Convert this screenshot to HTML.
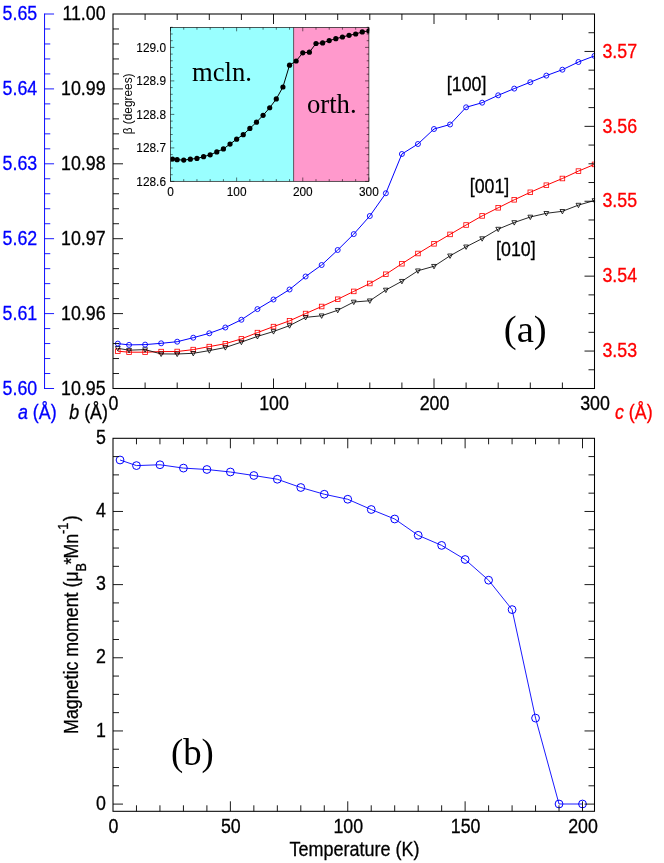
<!DOCTYPE html>
<html><head><meta charset="utf-8"><title>Lattice parameters and magnetic moment</title>
<style>
html,body{margin:0;padding:0;background:#fff;}
body{width:664px;height:863px;overflow:hidden;font-family:"Liberation Sans",sans-serif;}
svg{display:block;will-change:transform;}
</style></head><body>
<svg width="664" height="863" viewBox="0 0 664 863">
<defs><clipPath id="c2"><rect x="170.5" y="27.5" width="198.70" height="153.80"/></clipPath><clipPath id="c1"><rect x="109.0" y="14.0" width="486.10" height="374.50"/></clipPath></defs>
<rect width="664" height="863" fill="#fff"/>
<rect x="170.5" y="27.5" width="123.10" height="153.80" fill="#99ffff"/>
<rect x="293.6" y="27.5" width="75.30" height="153.80" fill="#ff99cc"/>
<line x1="293.60" y1="27.50" x2="293.60" y2="181.30" stroke="#000" stroke-width="0.6" />
<rect x="170.5" y="27.5" width="198.40" height="153.80" fill="none" stroke="#000" stroke-width="0.65"/>
<line x1="170.50" y1="181.30" x2="170.50" y2="177.50" stroke="#000" stroke-width="0.55" />
<line x1="170.50" y1="27.50" x2="170.50" y2="31.30" stroke="#000" stroke-width="0.55" />
<line x1="183.73" y1="181.30" x2="183.73" y2="179.10" stroke="#000" stroke-width="0.55" />
<line x1="183.73" y1="27.50" x2="183.73" y2="29.70" stroke="#000" stroke-width="0.55" />
<line x1="196.95" y1="181.30" x2="196.95" y2="179.10" stroke="#000" stroke-width="0.55" />
<line x1="196.95" y1="27.50" x2="196.95" y2="29.70" stroke="#000" stroke-width="0.55" />
<line x1="210.18" y1="181.30" x2="210.18" y2="179.10" stroke="#000" stroke-width="0.55" />
<line x1="210.18" y1="27.50" x2="210.18" y2="29.70" stroke="#000" stroke-width="0.55" />
<line x1="223.41" y1="181.30" x2="223.41" y2="179.10" stroke="#000" stroke-width="0.55" />
<line x1="223.41" y1="27.50" x2="223.41" y2="29.70" stroke="#000" stroke-width="0.55" />
<line x1="236.63" y1="181.30" x2="236.63" y2="177.50" stroke="#000" stroke-width="0.55" />
<line x1="236.63" y1="27.50" x2="236.63" y2="31.30" stroke="#000" stroke-width="0.55" />
<line x1="249.86" y1="181.30" x2="249.86" y2="179.10" stroke="#000" stroke-width="0.55" />
<line x1="249.86" y1="27.50" x2="249.86" y2="29.70" stroke="#000" stroke-width="0.55" />
<line x1="263.09" y1="181.30" x2="263.09" y2="179.10" stroke="#000" stroke-width="0.55" />
<line x1="263.09" y1="27.50" x2="263.09" y2="29.70" stroke="#000" stroke-width="0.55" />
<line x1="276.31" y1="181.30" x2="276.31" y2="179.10" stroke="#000" stroke-width="0.55" />
<line x1="276.31" y1="27.50" x2="276.31" y2="29.70" stroke="#000" stroke-width="0.55" />
<line x1="289.54" y1="181.30" x2="289.54" y2="179.10" stroke="#000" stroke-width="0.55" />
<line x1="289.54" y1="27.50" x2="289.54" y2="29.70" stroke="#000" stroke-width="0.55" />
<line x1="302.77" y1="181.30" x2="302.77" y2="177.50" stroke="#000" stroke-width="0.55" />
<line x1="302.77" y1="27.50" x2="302.77" y2="31.30" stroke="#000" stroke-width="0.55" />
<line x1="315.99" y1="181.30" x2="315.99" y2="179.10" stroke="#000" stroke-width="0.55" />
<line x1="315.99" y1="27.50" x2="315.99" y2="29.70" stroke="#000" stroke-width="0.55" />
<line x1="329.22" y1="181.30" x2="329.22" y2="179.10" stroke="#000" stroke-width="0.55" />
<line x1="329.22" y1="27.50" x2="329.22" y2="29.70" stroke="#000" stroke-width="0.55" />
<line x1="342.45" y1="181.30" x2="342.45" y2="179.10" stroke="#000" stroke-width="0.55" />
<line x1="342.45" y1="27.50" x2="342.45" y2="29.70" stroke="#000" stroke-width="0.55" />
<line x1="355.67" y1="181.30" x2="355.67" y2="179.10" stroke="#000" stroke-width="0.55" />
<line x1="355.67" y1="27.50" x2="355.67" y2="29.70" stroke="#000" stroke-width="0.55" />
<line x1="368.90" y1="181.30" x2="368.90" y2="177.50" stroke="#000" stroke-width="0.55" />
<line x1="368.90" y1="27.50" x2="368.90" y2="31.30" stroke="#000" stroke-width="0.55" />
<line x1="170.50" y1="181.40" x2="174.30" y2="181.40" stroke="#000" stroke-width="0.55" />
<line x1="368.90" y1="181.40" x2="365.10" y2="181.40" stroke="#000" stroke-width="0.55" />
<line x1="170.50" y1="174.70" x2="172.70" y2="174.70" stroke="#000" stroke-width="0.55" />
<line x1="368.90" y1="174.70" x2="366.70" y2="174.70" stroke="#000" stroke-width="0.55" />
<line x1="170.50" y1="168.00" x2="172.70" y2="168.00" stroke="#000" stroke-width="0.55" />
<line x1="368.90" y1="168.00" x2="366.70" y2="168.00" stroke="#000" stroke-width="0.55" />
<line x1="170.50" y1="161.30" x2="172.70" y2="161.30" stroke="#000" stroke-width="0.55" />
<line x1="368.90" y1="161.30" x2="366.70" y2="161.30" stroke="#000" stroke-width="0.55" />
<line x1="170.50" y1="154.60" x2="172.70" y2="154.60" stroke="#000" stroke-width="0.55" />
<line x1="368.90" y1="154.60" x2="366.70" y2="154.60" stroke="#000" stroke-width="0.55" />
<line x1="170.50" y1="147.90" x2="174.30" y2="147.90" stroke="#000" stroke-width="0.55" />
<line x1="368.90" y1="147.90" x2="365.10" y2="147.90" stroke="#000" stroke-width="0.55" />
<line x1="170.50" y1="141.20" x2="172.70" y2="141.20" stroke="#000" stroke-width="0.55" />
<line x1="368.90" y1="141.20" x2="366.70" y2="141.20" stroke="#000" stroke-width="0.55" />
<line x1="170.50" y1="134.50" x2="172.70" y2="134.50" stroke="#000" stroke-width="0.55" />
<line x1="368.90" y1="134.50" x2="366.70" y2="134.50" stroke="#000" stroke-width="0.55" />
<line x1="170.50" y1="127.80" x2="172.70" y2="127.80" stroke="#000" stroke-width="0.55" />
<line x1="368.90" y1="127.80" x2="366.70" y2="127.80" stroke="#000" stroke-width="0.55" />
<line x1="170.50" y1="121.10" x2="172.70" y2="121.10" stroke="#000" stroke-width="0.55" />
<line x1="368.90" y1="121.10" x2="366.70" y2="121.10" stroke="#000" stroke-width="0.55" />
<line x1="170.50" y1="114.40" x2="174.30" y2="114.40" stroke="#000" stroke-width="0.55" />
<line x1="368.90" y1="114.40" x2="365.10" y2="114.40" stroke="#000" stroke-width="0.55" />
<line x1="170.50" y1="107.70" x2="172.70" y2="107.70" stroke="#000" stroke-width="0.55" />
<line x1="368.90" y1="107.70" x2="366.70" y2="107.70" stroke="#000" stroke-width="0.55" />
<line x1="170.50" y1="101.00" x2="172.70" y2="101.00" stroke="#000" stroke-width="0.55" />
<line x1="368.90" y1="101.00" x2="366.70" y2="101.00" stroke="#000" stroke-width="0.55" />
<line x1="170.50" y1="94.30" x2="172.70" y2="94.30" stroke="#000" stroke-width="0.55" />
<line x1="368.90" y1="94.30" x2="366.70" y2="94.30" stroke="#000" stroke-width="0.55" />
<line x1="170.50" y1="87.60" x2="172.70" y2="87.60" stroke="#000" stroke-width="0.55" />
<line x1="368.90" y1="87.60" x2="366.70" y2="87.60" stroke="#000" stroke-width="0.55" />
<line x1="170.50" y1="80.90" x2="174.30" y2="80.90" stroke="#000" stroke-width="0.55" />
<line x1="368.90" y1="80.90" x2="365.10" y2="80.90" stroke="#000" stroke-width="0.55" />
<line x1="170.50" y1="74.20" x2="172.70" y2="74.20" stroke="#000" stroke-width="0.55" />
<line x1="368.90" y1="74.20" x2="366.70" y2="74.20" stroke="#000" stroke-width="0.55" />
<line x1="170.50" y1="67.50" x2="172.70" y2="67.50" stroke="#000" stroke-width="0.55" />
<line x1="368.90" y1="67.50" x2="366.70" y2="67.50" stroke="#000" stroke-width="0.55" />
<line x1="170.50" y1="60.80" x2="172.70" y2="60.80" stroke="#000" stroke-width="0.55" />
<line x1="368.90" y1="60.80" x2="366.70" y2="60.80" stroke="#000" stroke-width="0.55" />
<line x1="170.50" y1="54.10" x2="172.70" y2="54.10" stroke="#000" stroke-width="0.55" />
<line x1="368.90" y1="54.10" x2="366.70" y2="54.10" stroke="#000" stroke-width="0.55" />
<line x1="170.50" y1="47.40" x2="174.30" y2="47.40" stroke="#000" stroke-width="0.55" />
<line x1="368.90" y1="47.40" x2="365.10" y2="47.40" stroke="#000" stroke-width="0.55" />
<line x1="170.50" y1="40.70" x2="172.70" y2="40.70" stroke="#000" stroke-width="0.55" />
<line x1="368.90" y1="40.70" x2="366.70" y2="40.70" stroke="#000" stroke-width="0.55" />
<line x1="170.50" y1="34.00" x2="172.70" y2="34.00" stroke="#000" stroke-width="0.55" />
<line x1="368.90" y1="34.00" x2="366.70" y2="34.00" stroke="#000" stroke-width="0.55" />
<line x1="170.50" y1="27.30" x2="172.70" y2="27.30" stroke="#000" stroke-width="0.55" />
<line x1="368.90" y1="27.30" x2="366.70" y2="27.30" stroke="#000" stroke-width="0.55" />
<text transform="translate(170.50,196.10) scale(0.89,1)" font-size="13.33" fill="#000" stroke="#000" stroke-width="0.12" text-anchor="middle" font-family='"Liberation Sans", sans-serif' >0</text>
<text transform="translate(236.63,196.10) scale(0.89,1)" font-size="13.33" fill="#000" stroke="#000" stroke-width="0.12" text-anchor="middle" font-family='"Liberation Sans", sans-serif' >100</text>
<text transform="translate(302.77,196.10) scale(0.89,1)" font-size="13.33" fill="#000" stroke="#000" stroke-width="0.12" text-anchor="middle" font-family='"Liberation Sans", sans-serif' >200</text>
<text transform="translate(368.90,196.10) scale(0.89,1)" font-size="13.33" fill="#000" stroke="#000" stroke-width="0.12" text-anchor="middle" font-family='"Liberation Sans", sans-serif' >300</text>
<text transform="translate(166.00,185.80) scale(0.89,1)" font-size="13.33" fill="#000" stroke="#000" stroke-width="0.12" text-anchor="end" font-family='"Liberation Sans", sans-serif' >128.6</text>
<text transform="translate(166.00,152.30) scale(0.89,1)" font-size="13.33" fill="#000" stroke="#000" stroke-width="0.12" text-anchor="end" font-family='"Liberation Sans", sans-serif' >128.7</text>
<text transform="translate(166.00,118.80) scale(0.89,1)" font-size="13.33" fill="#000" stroke="#000" stroke-width="0.12" text-anchor="end" font-family='"Liberation Sans", sans-serif' >128.8</text>
<text transform="translate(166.00,85.30) scale(0.89,1)" font-size="13.33" fill="#000" stroke="#000" stroke-width="0.12" text-anchor="end" font-family='"Liberation Sans", sans-serif' >128.9</text>
<text transform="translate(166.00,51.80) scale(0.89,1)" font-size="13.33" fill="#000" stroke="#000" stroke-width="0.12" text-anchor="end" font-family='"Liberation Sans", sans-serif' >129.0</text>
<text transform="translate(132.4,134.3) rotate(-90) scale(0.89,1)" font-size="13.33" font-family='"Liberation Sans", sans-serif' fill="#000">&#946; (degrees)</text>
<text transform="translate(192.00,81.30) scale(1.0,1)" font-size="26.67" fill="#000" text-anchor="start" font-family='"Liberation Serif", serif' >mcln.</text>
<text transform="translate(307.00,113.40) scale(1.0,1)" font-size="26.67" fill="#000" text-anchor="start" font-family='"Liberation Serif", serif' >orth.</text>
<g clip-path="url(#c2)">
<polyline points="172.48,159.00 177.11,159.70 183.73,160.10 190.34,159.20 196.95,158.40 203.57,156.70 210.18,154.80 216.79,151.90 223.41,148.90 230.02,144.10 236.63,139.20 243.25,134.65 249.86,128.45 256.47,122.20 263.09,115.30 269.70,107.75 276.31,98.95 282.93,87.00 289.54,65.20 296.15,61.00 302.77,52.80 309.38,52.20 315.99,43.50 322.61,42.90 329.22,40.60 335.83,38.70 342.45,37.00 349.06,35.30 355.67,34.00 362.29,31.90 368.90,30.90" fill="none" stroke="#000" stroke-width="1"/>
<circle cx="172.48" cy="159.00" r="2.6" fill="#000"/>
<circle cx="177.11" cy="159.70" r="2.6" fill="#000"/>
<circle cx="183.73" cy="160.10" r="2.6" fill="#000"/>
<circle cx="190.34" cy="159.20" r="2.6" fill="#000"/>
<circle cx="196.95" cy="158.40" r="2.6" fill="#000"/>
<circle cx="203.57" cy="156.70" r="2.6" fill="#000"/>
<circle cx="210.18" cy="154.80" r="2.6" fill="#000"/>
<circle cx="216.79" cy="151.90" r="2.6" fill="#000"/>
<circle cx="223.41" cy="148.90" r="2.6" fill="#000"/>
<circle cx="230.02" cy="144.10" r="2.6" fill="#000"/>
<circle cx="236.63" cy="139.20" r="2.6" fill="#000"/>
<circle cx="243.25" cy="134.65" r="2.6" fill="#000"/>
<circle cx="249.86" cy="128.45" r="2.6" fill="#000"/>
<circle cx="256.47" cy="122.20" r="2.6" fill="#000"/>
<circle cx="263.09" cy="115.30" r="2.6" fill="#000"/>
<circle cx="269.70" cy="107.75" r="2.6" fill="#000"/>
<circle cx="276.31" cy="98.95" r="2.6" fill="#000"/>
<circle cx="282.93" cy="87.00" r="2.6" fill="#000"/>
<circle cx="289.54" cy="65.20" r="2.6" fill="#000"/>
<circle cx="296.15" cy="61.00" r="2.6" fill="#000"/>
<circle cx="302.77" cy="52.80" r="2.6" fill="#000"/>
<circle cx="309.38" cy="52.20" r="2.6" fill="#000"/>
<circle cx="315.99" cy="43.50" r="2.6" fill="#000"/>
<circle cx="322.61" cy="42.90" r="2.6" fill="#000"/>
<circle cx="329.22" cy="40.60" r="2.6" fill="#000"/>
<circle cx="335.83" cy="38.70" r="2.6" fill="#000"/>
<circle cx="342.45" cy="37.00" r="2.6" fill="#000"/>
<circle cx="349.06" cy="35.30" r="2.6" fill="#000"/>
<circle cx="355.67" cy="34.00" r="2.6" fill="#000"/>
<circle cx="362.29" cy="31.90" r="2.6" fill="#000"/>
<circle cx="368.90" cy="30.90" r="2.6" fill="#000"/>
</g>
<line x1="44.55" y1="13.50" x2="44.55" y2="389.00" stroke="#0000ff" stroke-width="0.95" />
<line x1="44.55" y1="14.00" x2="54.05" y2="14.00" stroke="#0000ff" stroke-width="0.9" />
<line x1="44.55" y1="28.98" x2="50.25" y2="28.98" stroke="#0000ff" stroke-width="0.9" />
<line x1="44.55" y1="43.96" x2="50.25" y2="43.96" stroke="#0000ff" stroke-width="0.9" />
<line x1="44.55" y1="58.94" x2="50.25" y2="58.94" stroke="#0000ff" stroke-width="0.9" />
<line x1="44.55" y1="73.92" x2="50.25" y2="73.92" stroke="#0000ff" stroke-width="0.9" />
<line x1="44.55" y1="88.90" x2="54.05" y2="88.90" stroke="#0000ff" stroke-width="0.9" />
<line x1="44.55" y1="103.88" x2="50.25" y2="103.88" stroke="#0000ff" stroke-width="0.9" />
<line x1="44.55" y1="118.86" x2="50.25" y2="118.86" stroke="#0000ff" stroke-width="0.9" />
<line x1="44.55" y1="133.84" x2="50.25" y2="133.84" stroke="#0000ff" stroke-width="0.9" />
<line x1="44.55" y1="148.82" x2="50.25" y2="148.82" stroke="#0000ff" stroke-width="0.9" />
<line x1="44.55" y1="163.80" x2="54.05" y2="163.80" stroke="#0000ff" stroke-width="0.9" />
<line x1="44.55" y1="178.78" x2="50.25" y2="178.78" stroke="#0000ff" stroke-width="0.9" />
<line x1="44.55" y1="193.76" x2="50.25" y2="193.76" stroke="#0000ff" stroke-width="0.9" />
<line x1="44.55" y1="208.74" x2="50.25" y2="208.74" stroke="#0000ff" stroke-width="0.9" />
<line x1="44.55" y1="223.72" x2="50.25" y2="223.72" stroke="#0000ff" stroke-width="0.9" />
<line x1="44.55" y1="238.70" x2="54.05" y2="238.70" stroke="#0000ff" stroke-width="0.9" />
<line x1="44.55" y1="253.68" x2="50.25" y2="253.68" stroke="#0000ff" stroke-width="0.9" />
<line x1="44.55" y1="268.66" x2="50.25" y2="268.66" stroke="#0000ff" stroke-width="0.9" />
<line x1="44.55" y1="283.64" x2="50.25" y2="283.64" stroke="#0000ff" stroke-width="0.9" />
<line x1="44.55" y1="298.62" x2="50.25" y2="298.62" stroke="#0000ff" stroke-width="0.9" />
<line x1="44.55" y1="313.60" x2="54.05" y2="313.60" stroke="#0000ff" stroke-width="0.9" />
<line x1="44.55" y1="328.58" x2="50.25" y2="328.58" stroke="#0000ff" stroke-width="0.9" />
<line x1="44.55" y1="343.56" x2="50.25" y2="343.56" stroke="#0000ff" stroke-width="0.9" />
<line x1="44.55" y1="358.54" x2="50.25" y2="358.54" stroke="#0000ff" stroke-width="0.9" />
<line x1="44.55" y1="373.52" x2="50.25" y2="373.52" stroke="#0000ff" stroke-width="0.9" />
<line x1="44.55" y1="388.50" x2="54.05" y2="388.50" stroke="#0000ff" stroke-width="0.9" />
<text transform="translate(2.60,20.20) scale(0.89,1)" font-size="20.0" fill="#0000ff" stroke="#0000ff" stroke-width="0.3" text-anchor="start" font-family='"Liberation Sans", sans-serif' >5.65</text>
<text transform="translate(105.60,20.20) scale(0.89,1)" font-size="20.0" fill="#000" stroke="#000" stroke-width="0.3" text-anchor="end" font-family='"Liberation Sans", sans-serif' >11.00</text>
<text transform="translate(2.60,95.10) scale(0.89,1)" font-size="20.0" fill="#0000ff" stroke="#0000ff" stroke-width="0.3" text-anchor="start" font-family='"Liberation Sans", sans-serif' >5.64</text>
<text transform="translate(105.60,95.10) scale(0.89,1)" font-size="20.0" fill="#000" stroke="#000" stroke-width="0.3" text-anchor="end" font-family='"Liberation Sans", sans-serif' >10.99</text>
<text transform="translate(2.60,170.00) scale(0.89,1)" font-size="20.0" fill="#0000ff" stroke="#0000ff" stroke-width="0.3" text-anchor="start" font-family='"Liberation Sans", sans-serif' >5.63</text>
<text transform="translate(105.60,170.00) scale(0.89,1)" font-size="20.0" fill="#000" stroke="#000" stroke-width="0.3" text-anchor="end" font-family='"Liberation Sans", sans-serif' >10.98</text>
<text transform="translate(2.60,244.90) scale(0.89,1)" font-size="20.0" fill="#0000ff" stroke="#0000ff" stroke-width="0.3" text-anchor="start" font-family='"Liberation Sans", sans-serif' >5.62</text>
<text transform="translate(105.60,244.90) scale(0.89,1)" font-size="20.0" fill="#000" stroke="#000" stroke-width="0.3" text-anchor="end" font-family='"Liberation Sans", sans-serif' >10.97</text>
<text transform="translate(2.60,319.80) scale(0.89,1)" font-size="20.0" fill="#0000ff" stroke="#0000ff" stroke-width="0.3" text-anchor="start" font-family='"Liberation Sans", sans-serif' >5.61</text>
<text transform="translate(105.60,319.80) scale(0.89,1)" font-size="20.0" fill="#000" stroke="#000" stroke-width="0.3" text-anchor="end" font-family='"Liberation Sans", sans-serif' >10.96</text>
<text transform="translate(2.60,394.70) scale(0.89,1)" font-size="20.0" fill="#0000ff" stroke="#0000ff" stroke-width="0.3" text-anchor="start" font-family='"Liberation Sans", sans-serif' >5.60</text>
<text transform="translate(105.60,394.70) scale(0.89,1)" font-size="20.0" fill="#000" stroke="#000" stroke-width="0.3" text-anchor="end" font-family='"Liberation Sans", sans-serif' >10.95</text>
<text transform="translate(602.40,57.65) scale(0.89,1)" font-size="20.0" fill="#ff0000" stroke="#ff0000" stroke-width="0.3" text-anchor="start" font-family='"Liberation Sans", sans-serif' >3.57</text>
<text transform="translate(602.40,132.55) scale(0.89,1)" font-size="20.0" fill="#ff0000" stroke="#ff0000" stroke-width="0.3" text-anchor="start" font-family='"Liberation Sans", sans-serif' >3.56</text>
<text transform="translate(602.40,207.45) scale(0.89,1)" font-size="20.0" fill="#ff0000" stroke="#ff0000" stroke-width="0.3" text-anchor="start" font-family='"Liberation Sans", sans-serif' >3.55</text>
<text transform="translate(602.40,282.35) scale(0.89,1)" font-size="20.0" fill="#ff0000" stroke="#ff0000" stroke-width="0.3" text-anchor="start" font-family='"Liberation Sans", sans-serif' >3.54</text>
<text transform="translate(602.40,357.25) scale(0.89,1)" font-size="20.0" fill="#ff0000" stroke="#ff0000" stroke-width="0.3" text-anchor="start" font-family='"Liberation Sans", sans-serif' >3.53</text>
<text transform="translate(113.50,409.70) scale(0.89,1)" font-size="20.0" fill="#000" stroke="#000" stroke-width="0.3" text-anchor="middle" font-family='"Liberation Sans", sans-serif' >0</text>
<text transform="translate(274.00,409.70) scale(0.89,1)" font-size="20.0" fill="#000" stroke="#000" stroke-width="0.3" text-anchor="middle" font-family='"Liberation Sans", sans-serif' >100</text>
<text transform="translate(434.50,409.70) scale(0.89,1)" font-size="20.0" fill="#000" stroke="#000" stroke-width="0.3" text-anchor="middle" font-family='"Liberation Sans", sans-serif' >200</text>
<text transform="translate(595.00,409.70) scale(0.89,1)" font-size="20.0" fill="#000" stroke="#000" stroke-width="0.3" text-anchor="middle" font-family='"Liberation Sans", sans-serif' >300</text>
<text transform="translate(18.00,419.40) scale(0.89,1)" font-size="20.0" fill="#0000ff" stroke="#0000ff" stroke-width="0.3" text-anchor="start" font-family='"Liberation Sans", sans-serif' ><tspan font-style="italic">a</tspan> (&#197;)</text>
<text transform="translate(69.30,419.40) scale(0.89,1)" font-size="20.0" fill="#000" stroke="#000" stroke-width="0.3" text-anchor="start" font-family='"Liberation Sans", sans-serif' ><tspan font-style="italic">b</tspan> (&#197;)</text>
<text transform="translate(615.00,419.30) scale(0.89,1)" font-size="20.0" fill="#ff0000" stroke="#ff0000" stroke-width="0.3" text-anchor="start" font-family='"Liberation Sans", sans-serif' ><tspan font-style="italic">c</tspan> (&#197;)</text>
<g clip-path="url(#c1)">
<polyline points="117.81,351.20 129.05,352.20 145.10,352.20 161.15,351.60 177.20,351.50 193.25,349.60 209.30,346.60 225.35,343.70 241.40,338.90 257.45,332.60 273.50,326.60 289.55,320.80 305.60,313.55 321.65,306.50 337.70,299.25 353.75,291.40 369.80,283.50 385.85,274.25 401.90,263.75 417.95,253.50 434.00,243.80 450.05,234.40 466.10,225.00 482.15,215.90 498.20,207.80 514.25,199.80 530.30,192.30 546.35,185.20 562.40,178.50 578.45,171.10 594.50,164.40" fill="none" stroke="#ff0000" stroke-width="1" stroke-linejoin="round"/>
<rect x="115.52" y="348.90" width="4.6" height="4.6" fill="none" stroke="#ff0000" stroke-width="0.8"/>
<rect x="126.75" y="349.90" width="4.6" height="4.6" fill="none" stroke="#ff0000" stroke-width="0.8"/>
<rect x="142.80" y="349.90" width="4.6" height="4.6" fill="none" stroke="#ff0000" stroke-width="0.8"/>
<rect x="158.85" y="349.30" width="4.6" height="4.6" fill="none" stroke="#ff0000" stroke-width="0.8"/>
<rect x="174.90" y="349.20" width="4.6" height="4.6" fill="none" stroke="#ff0000" stroke-width="0.8"/>
<rect x="190.95" y="347.30" width="4.6" height="4.6" fill="none" stroke="#ff0000" stroke-width="0.8"/>
<rect x="207.00" y="344.30" width="4.6" height="4.6" fill="none" stroke="#ff0000" stroke-width="0.8"/>
<rect x="223.05" y="341.40" width="4.6" height="4.6" fill="none" stroke="#ff0000" stroke-width="0.8"/>
<rect x="239.10" y="336.60" width="4.6" height="4.6" fill="none" stroke="#ff0000" stroke-width="0.8"/>
<rect x="255.15" y="330.30" width="4.6" height="4.6" fill="none" stroke="#ff0000" stroke-width="0.8"/>
<rect x="271.20" y="324.30" width="4.6" height="4.6" fill="none" stroke="#ff0000" stroke-width="0.8"/>
<rect x="287.25" y="318.50" width="4.6" height="4.6" fill="none" stroke="#ff0000" stroke-width="0.8"/>
<rect x="303.30" y="311.25" width="4.6" height="4.6" fill="none" stroke="#ff0000" stroke-width="0.8"/>
<rect x="319.35" y="304.20" width="4.6" height="4.6" fill="none" stroke="#ff0000" stroke-width="0.8"/>
<rect x="335.40" y="296.95" width="4.6" height="4.6" fill="none" stroke="#ff0000" stroke-width="0.8"/>
<rect x="351.45" y="289.10" width="4.6" height="4.6" fill="none" stroke="#ff0000" stroke-width="0.8"/>
<rect x="367.50" y="281.20" width="4.6" height="4.6" fill="none" stroke="#ff0000" stroke-width="0.8"/>
<rect x="383.55" y="271.95" width="4.6" height="4.6" fill="none" stroke="#ff0000" stroke-width="0.8"/>
<rect x="399.60" y="261.45" width="4.6" height="4.6" fill="none" stroke="#ff0000" stroke-width="0.8"/>
<rect x="415.65" y="251.20" width="4.6" height="4.6" fill="none" stroke="#ff0000" stroke-width="0.8"/>
<rect x="431.70" y="241.50" width="4.6" height="4.6" fill="none" stroke="#ff0000" stroke-width="0.8"/>
<rect x="447.75" y="232.10" width="4.6" height="4.6" fill="none" stroke="#ff0000" stroke-width="0.8"/>
<rect x="463.80" y="222.70" width="4.6" height="4.6" fill="none" stroke="#ff0000" stroke-width="0.8"/>
<rect x="479.85" y="213.60" width="4.6" height="4.6" fill="none" stroke="#ff0000" stroke-width="0.8"/>
<rect x="495.90" y="205.50" width="4.6" height="4.6" fill="none" stroke="#ff0000" stroke-width="0.8"/>
<rect x="511.95" y="197.50" width="4.6" height="4.6" fill="none" stroke="#ff0000" stroke-width="0.8"/>
<rect x="528.00" y="190.00" width="4.6" height="4.6" fill="none" stroke="#ff0000" stroke-width="0.8"/>
<rect x="544.05" y="182.90" width="4.6" height="4.6" fill="none" stroke="#ff0000" stroke-width="0.8"/>
<rect x="560.10" y="176.20" width="4.6" height="4.6" fill="none" stroke="#ff0000" stroke-width="0.8"/>
<rect x="576.15" y="168.80" width="4.6" height="4.6" fill="none" stroke="#ff0000" stroke-width="0.8"/>
<rect x="592.20" y="162.10" width="4.6" height="4.6" fill="none" stroke="#ff0000" stroke-width="0.8"/>
<polyline points="117.81,348.30 129.05,350.20 145.10,349.60 161.15,353.90 177.20,354.00 193.25,353.30 209.30,350.60 225.35,347.50 241.40,342.10 257.45,336.40 273.50,331.50 289.55,325.60 305.60,317.35 321.65,315.75 337.70,310.25 353.75,302.00 369.80,300.75 385.85,290.00 401.90,281.25 417.95,270.75 434.00,266.25 450.05,255.80 466.10,246.80 482.15,238.60 498.20,229.10 514.25,222.50 530.30,217.00 546.35,213.30 562.40,211.30 578.45,205.10 594.50,200.50" fill="none" stroke="#000" stroke-width="0.85" stroke-linejoin="round"/>
<path d="M115.41,346.50 L120.22,346.50 L117.81,350.90 Z" fill="none" stroke="#000" stroke-width="0.8"/>
<path d="M126.65,348.40 L131.45,348.40 L129.05,352.80 Z" fill="none" stroke="#000" stroke-width="0.8"/>
<path d="M142.70,347.80 L147.50,347.80 L145.10,352.20 Z" fill="none" stroke="#000" stroke-width="0.8"/>
<path d="M158.75,352.10 L163.55,352.10 L161.15,356.50 Z" fill="none" stroke="#000" stroke-width="0.8"/>
<path d="M174.80,352.20 L179.60,352.20 L177.20,356.60 Z" fill="none" stroke="#000" stroke-width="0.8"/>
<path d="M190.85,351.50 L195.65,351.50 L193.25,355.90 Z" fill="none" stroke="#000" stroke-width="0.8"/>
<path d="M206.90,348.80 L211.70,348.80 L209.30,353.20 Z" fill="none" stroke="#000" stroke-width="0.8"/>
<path d="M222.95,345.70 L227.75,345.70 L225.35,350.10 Z" fill="none" stroke="#000" stroke-width="0.8"/>
<path d="M239.00,340.30 L243.80,340.30 L241.40,344.70 Z" fill="none" stroke="#000" stroke-width="0.8"/>
<path d="M255.05,334.60 L259.85,334.60 L257.45,339.00 Z" fill="none" stroke="#000" stroke-width="0.8"/>
<path d="M271.10,329.70 L275.90,329.70 L273.50,334.10 Z" fill="none" stroke="#000" stroke-width="0.8"/>
<path d="M287.15,323.80 L291.95,323.80 L289.55,328.20 Z" fill="none" stroke="#000" stroke-width="0.8"/>
<path d="M303.20,315.55 L308.00,315.55 L305.60,319.95 Z" fill="none" stroke="#000" stroke-width="0.8"/>
<path d="M319.25,313.95 L324.05,313.95 L321.65,318.35 Z" fill="none" stroke="#000" stroke-width="0.8"/>
<path d="M335.30,308.45 L340.10,308.45 L337.70,312.85 Z" fill="none" stroke="#000" stroke-width="0.8"/>
<path d="M351.35,300.20 L356.15,300.20 L353.75,304.60 Z" fill="none" stroke="#000" stroke-width="0.8"/>
<path d="M367.40,298.95 L372.20,298.95 L369.80,303.35 Z" fill="none" stroke="#000" stroke-width="0.8"/>
<path d="M383.45,288.20 L388.25,288.20 L385.85,292.60 Z" fill="none" stroke="#000" stroke-width="0.8"/>
<path d="M399.50,279.45 L404.30,279.45 L401.90,283.85 Z" fill="none" stroke="#000" stroke-width="0.8"/>
<path d="M415.55,268.95 L420.35,268.95 L417.95,273.35 Z" fill="none" stroke="#000" stroke-width="0.8"/>
<path d="M431.60,264.45 L436.40,264.45 L434.00,268.85 Z" fill="none" stroke="#000" stroke-width="0.8"/>
<path d="M447.65,254.00 L452.45,254.00 L450.05,258.40 Z" fill="none" stroke="#000" stroke-width="0.8"/>
<path d="M463.70,245.00 L468.50,245.00 L466.10,249.40 Z" fill="none" stroke="#000" stroke-width="0.8"/>
<path d="M479.75,236.80 L484.55,236.80 L482.15,241.20 Z" fill="none" stroke="#000" stroke-width="0.8"/>
<path d="M495.80,227.30 L500.60,227.30 L498.20,231.70 Z" fill="none" stroke="#000" stroke-width="0.8"/>
<path d="M511.85,220.70 L516.65,220.70 L514.25,225.10 Z" fill="none" stroke="#000" stroke-width="0.8"/>
<path d="M527.90,215.20 L532.70,215.20 L530.30,219.60 Z" fill="none" stroke="#000" stroke-width="0.8"/>
<path d="M543.95,211.50 L548.75,211.50 L546.35,215.90 Z" fill="none" stroke="#000" stroke-width="0.8"/>
<path d="M560.00,209.50 L564.80,209.50 L562.40,213.90 Z" fill="none" stroke="#000" stroke-width="0.8"/>
<path d="M576.05,203.30 L580.85,203.30 L578.45,207.70 Z" fill="none" stroke="#000" stroke-width="0.8"/>
<path d="M592.10,198.70 L596.90,198.70 L594.50,203.10 Z" fill="none" stroke="#000" stroke-width="0.8"/>
<polyline points="117.81,343.60 129.05,344.90 145.10,344.60 161.15,343.30 177.20,341.70 193.25,337.70 209.30,333.30 225.35,327.50 241.40,319.75 257.45,309.10 273.50,299.50 289.55,289.50 305.60,276.50 321.65,265.00 337.70,250.00 353.75,234.10 369.80,216.00 385.85,193.25 401.90,154.00 417.95,144.00 434.00,129.00 450.05,124.50 466.10,107.30 482.15,102.70 498.20,95.30 514.25,88.60 530.30,82.20 546.35,75.60 562.40,69.70 578.45,62.00 594.50,55.90" fill="none" stroke="#0000ff" stroke-width="1" stroke-linejoin="round"/>
<circle cx="117.81" cy="343.60" r="2.5" fill="none" stroke="#0000ff" stroke-width="0.9"/>
<circle cx="129.05" cy="344.90" r="2.5" fill="none" stroke="#0000ff" stroke-width="0.9"/>
<circle cx="145.10" cy="344.60" r="2.5" fill="none" stroke="#0000ff" stroke-width="0.9"/>
<circle cx="161.15" cy="343.30" r="2.5" fill="none" stroke="#0000ff" stroke-width="0.9"/>
<circle cx="177.20" cy="341.70" r="2.5" fill="none" stroke="#0000ff" stroke-width="0.9"/>
<circle cx="193.25" cy="337.70" r="2.5" fill="none" stroke="#0000ff" stroke-width="0.9"/>
<circle cx="209.30" cy="333.30" r="2.5" fill="none" stroke="#0000ff" stroke-width="0.9"/>
<circle cx="225.35" cy="327.50" r="2.5" fill="none" stroke="#0000ff" stroke-width="0.9"/>
<circle cx="241.40" cy="319.75" r="2.5" fill="none" stroke="#0000ff" stroke-width="0.9"/>
<circle cx="257.45" cy="309.10" r="2.5" fill="none" stroke="#0000ff" stroke-width="0.9"/>
<circle cx="273.50" cy="299.50" r="2.5" fill="none" stroke="#0000ff" stroke-width="0.9"/>
<circle cx="289.55" cy="289.50" r="2.5" fill="none" stroke="#0000ff" stroke-width="0.9"/>
<circle cx="305.60" cy="276.50" r="2.5" fill="none" stroke="#0000ff" stroke-width="0.9"/>
<circle cx="321.65" cy="265.00" r="2.5" fill="none" stroke="#0000ff" stroke-width="0.9"/>
<circle cx="337.70" cy="250.00" r="2.5" fill="none" stroke="#0000ff" stroke-width="0.9"/>
<circle cx="353.75" cy="234.10" r="2.5" fill="none" stroke="#0000ff" stroke-width="0.9"/>
<circle cx="369.80" cy="216.00" r="2.5" fill="none" stroke="#0000ff" stroke-width="0.9"/>
<circle cx="385.85" cy="193.25" r="2.5" fill="none" stroke="#0000ff" stroke-width="0.9"/>
<circle cx="401.90" cy="154.00" r="2.5" fill="none" stroke="#0000ff" stroke-width="0.9"/>
<circle cx="417.95" cy="144.00" r="2.5" fill="none" stroke="#0000ff" stroke-width="0.9"/>
<circle cx="434.00" cy="129.00" r="2.5" fill="none" stroke="#0000ff" stroke-width="0.9"/>
<circle cx="450.05" cy="124.50" r="2.5" fill="none" stroke="#0000ff" stroke-width="0.9"/>
<circle cx="466.10" cy="107.30" r="2.5" fill="none" stroke="#0000ff" stroke-width="0.9"/>
<circle cx="482.15" cy="102.70" r="2.5" fill="none" stroke="#0000ff" stroke-width="0.9"/>
<circle cx="498.20" cy="95.30" r="2.5" fill="none" stroke="#0000ff" stroke-width="0.9"/>
<circle cx="514.25" cy="88.60" r="2.5" fill="none" stroke="#0000ff" stroke-width="0.9"/>
<circle cx="530.30" cy="82.20" r="2.5" fill="none" stroke="#0000ff" stroke-width="0.9"/>
<circle cx="546.35" cy="75.60" r="2.5" fill="none" stroke="#0000ff" stroke-width="0.9"/>
<circle cx="562.40" cy="69.70" r="2.5" fill="none" stroke="#0000ff" stroke-width="0.9"/>
<circle cx="578.45" cy="62.00" r="2.5" fill="none" stroke="#0000ff" stroke-width="0.9"/>
<circle cx="594.50" cy="55.90" r="2.5" fill="none" stroke="#0000ff" stroke-width="0.9"/>
</g>
<rect x="113.0" y="14.0" width="481.50" height="374.50" fill="none" stroke="#000" stroke-width="1.05"/>
<line x1="145.10" y1="388.50" x2="145.10" y2="382.50" stroke="#000" stroke-width="0.9" />
<line x1="145.10" y1="14.00" x2="145.10" y2="20.00" stroke="#000" stroke-width="0.9" />
<line x1="177.20" y1="388.50" x2="177.20" y2="382.50" stroke="#000" stroke-width="0.9" />
<line x1="177.20" y1="14.00" x2="177.20" y2="20.00" stroke="#000" stroke-width="0.9" />
<line x1="209.30" y1="388.50" x2="209.30" y2="382.50" stroke="#000" stroke-width="0.9" />
<line x1="209.30" y1="14.00" x2="209.30" y2="20.00" stroke="#000" stroke-width="0.9" />
<line x1="241.40" y1="388.50" x2="241.40" y2="382.50" stroke="#000" stroke-width="0.9" />
<line x1="241.40" y1="14.00" x2="241.40" y2="20.00" stroke="#000" stroke-width="0.9" />
<line x1="273.50" y1="388.50" x2="273.50" y2="378.50" stroke="#000" stroke-width="0.9" />
<line x1="273.50" y1="14.00" x2="273.50" y2="24.00" stroke="#000" stroke-width="0.9" />
<line x1="305.60" y1="388.50" x2="305.60" y2="382.50" stroke="#000" stroke-width="0.9" />
<line x1="305.60" y1="14.00" x2="305.60" y2="20.00" stroke="#000" stroke-width="0.9" />
<line x1="337.70" y1="388.50" x2="337.70" y2="382.50" stroke="#000" stroke-width="0.9" />
<line x1="337.70" y1="14.00" x2="337.70" y2="20.00" stroke="#000" stroke-width="0.9" />
<line x1="369.80" y1="388.50" x2="369.80" y2="382.50" stroke="#000" stroke-width="0.9" />
<line x1="369.80" y1="14.00" x2="369.80" y2="20.00" stroke="#000" stroke-width="0.9" />
<line x1="401.90" y1="388.50" x2="401.90" y2="382.50" stroke="#000" stroke-width="0.9" />
<line x1="401.90" y1="14.00" x2="401.90" y2="20.00" stroke="#000" stroke-width="0.9" />
<line x1="434.00" y1="388.50" x2="434.00" y2="378.50" stroke="#000" stroke-width="0.9" />
<line x1="434.00" y1="14.00" x2="434.00" y2="24.00" stroke="#000" stroke-width="0.9" />
<line x1="466.10" y1="388.50" x2="466.10" y2="382.50" stroke="#000" stroke-width="0.9" />
<line x1="466.10" y1="14.00" x2="466.10" y2="20.00" stroke="#000" stroke-width="0.9" />
<line x1="498.20" y1="388.50" x2="498.20" y2="382.50" stroke="#000" stroke-width="0.9" />
<line x1="498.20" y1="14.00" x2="498.20" y2="20.00" stroke="#000" stroke-width="0.9" />
<line x1="530.30" y1="388.50" x2="530.30" y2="382.50" stroke="#000" stroke-width="0.9" />
<line x1="530.30" y1="14.00" x2="530.30" y2="20.00" stroke="#000" stroke-width="0.9" />
<line x1="562.40" y1="388.50" x2="562.40" y2="382.50" stroke="#000" stroke-width="0.9" />
<line x1="562.40" y1="14.00" x2="562.40" y2="20.00" stroke="#000" stroke-width="0.9" />
<line x1="113.00" y1="28.98" x2="119.00" y2="28.98" stroke="#000" stroke-width="0.9" />
<line x1="113.00" y1="43.96" x2="119.00" y2="43.96" stroke="#000" stroke-width="0.9" />
<line x1="113.00" y1="58.94" x2="119.00" y2="58.94" stroke="#000" stroke-width="0.9" />
<line x1="113.00" y1="73.92" x2="119.00" y2="73.92" stroke="#000" stroke-width="0.9" />
<line x1="113.00" y1="88.90" x2="123.00" y2="88.90" stroke="#000" stroke-width="0.9" />
<line x1="113.00" y1="103.88" x2="119.00" y2="103.88" stroke="#000" stroke-width="0.9" />
<line x1="113.00" y1="118.86" x2="119.00" y2="118.86" stroke="#000" stroke-width="0.9" />
<line x1="113.00" y1="133.84" x2="119.00" y2="133.84" stroke="#000" stroke-width="0.9" />
<line x1="113.00" y1="148.82" x2="119.00" y2="148.82" stroke="#000" stroke-width="0.9" />
<line x1="113.00" y1="163.80" x2="123.00" y2="163.80" stroke="#000" stroke-width="0.9" />
<line x1="113.00" y1="178.78" x2="119.00" y2="178.78" stroke="#000" stroke-width="0.9" />
<line x1="113.00" y1="193.76" x2="119.00" y2="193.76" stroke="#000" stroke-width="0.9" />
<line x1="113.00" y1="208.74" x2="119.00" y2="208.74" stroke="#000" stroke-width="0.9" />
<line x1="113.00" y1="223.72" x2="119.00" y2="223.72" stroke="#000" stroke-width="0.9" />
<line x1="113.00" y1="238.70" x2="123.00" y2="238.70" stroke="#000" stroke-width="0.9" />
<line x1="113.00" y1="253.68" x2="119.00" y2="253.68" stroke="#000" stroke-width="0.9" />
<line x1="113.00" y1="268.66" x2="119.00" y2="268.66" stroke="#000" stroke-width="0.9" />
<line x1="113.00" y1="283.64" x2="119.00" y2="283.64" stroke="#000" stroke-width="0.9" />
<line x1="113.00" y1="298.62" x2="119.00" y2="298.62" stroke="#000" stroke-width="0.9" />
<line x1="113.00" y1="313.60" x2="123.00" y2="313.60" stroke="#000" stroke-width="0.9" />
<line x1="113.00" y1="328.58" x2="119.00" y2="328.58" stroke="#000" stroke-width="0.9" />
<line x1="113.00" y1="343.56" x2="119.00" y2="343.56" stroke="#000" stroke-width="0.9" />
<line x1="113.00" y1="358.54" x2="119.00" y2="358.54" stroke="#000" stroke-width="0.9" />
<line x1="113.00" y1="373.52" x2="119.00" y2="373.52" stroke="#000" stroke-width="0.9" />
<line x1="594.50" y1="32.73" x2="588.50" y2="32.73" stroke="#000" stroke-width="0.9" />
<line x1="594.50" y1="51.45" x2="584.50" y2="51.45" stroke="#000" stroke-width="0.9" />
<line x1="594.50" y1="70.17" x2="588.50" y2="70.17" stroke="#000" stroke-width="0.9" />
<line x1="594.50" y1="88.90" x2="588.50" y2="88.90" stroke="#000" stroke-width="0.9" />
<line x1="594.50" y1="107.62" x2="588.50" y2="107.62" stroke="#000" stroke-width="0.9" />
<line x1="594.50" y1="126.35" x2="584.50" y2="126.35" stroke="#000" stroke-width="0.9" />
<line x1="594.50" y1="145.07" x2="588.50" y2="145.07" stroke="#000" stroke-width="0.9" />
<line x1="594.50" y1="163.80" x2="588.50" y2="163.80" stroke="#000" stroke-width="0.9" />
<line x1="594.50" y1="182.53" x2="588.50" y2="182.53" stroke="#000" stroke-width="0.9" />
<line x1="594.50" y1="201.25" x2="584.50" y2="201.25" stroke="#000" stroke-width="0.9" />
<line x1="594.50" y1="219.97" x2="588.50" y2="219.97" stroke="#000" stroke-width="0.9" />
<line x1="594.50" y1="238.70" x2="588.50" y2="238.70" stroke="#000" stroke-width="0.9" />
<line x1="594.50" y1="257.43" x2="588.50" y2="257.43" stroke="#000" stroke-width="0.9" />
<line x1="594.50" y1="276.15" x2="584.50" y2="276.15" stroke="#000" stroke-width="0.9" />
<line x1="594.50" y1="294.88" x2="588.50" y2="294.88" stroke="#000" stroke-width="0.9" />
<line x1="594.50" y1="313.60" x2="588.50" y2="313.60" stroke="#000" stroke-width="0.9" />
<line x1="594.50" y1="332.32" x2="588.50" y2="332.32" stroke="#000" stroke-width="0.9" />
<line x1="594.50" y1="351.05" x2="584.50" y2="351.05" stroke="#000" stroke-width="0.9" />
<line x1="594.50" y1="369.77" x2="588.50" y2="369.77" stroke="#000" stroke-width="0.9" />
<text transform="translate(446.80,90.90) scale(0.89,1)" font-size="20.0" fill="#000" stroke="#000" stroke-width="0.3" text-anchor="start" font-family='"Liberation Sans", sans-serif' >[100]</text>
<text transform="translate(469.70,193.30) scale(0.89,1)" font-size="20.0" fill="#000" stroke="#000" stroke-width="0.3" text-anchor="start" font-family='"Liberation Sans", sans-serif' >[001]</text>
<text transform="translate(496.10,256.40) scale(0.89,1)" font-size="20.0" fill="#000" stroke="#000" stroke-width="0.3" text-anchor="start" font-family='"Liberation Sans", sans-serif' >[010]</text>
<text transform="translate(503.80,341.50) scale(1.0,1)" font-size="38.7" fill="#000" text-anchor="start" font-family='"Liberation Serif", serif' >(a)</text>
<text transform="translate(105.80,809.70) scale(0.89,1)" font-size="20.0" fill="#000" stroke="#000" stroke-width="0.3" text-anchor="end" font-family='"Liberation Sans", sans-serif' >0</text>
<text transform="translate(105.80,736.54) scale(0.89,1)" font-size="20.0" fill="#000" stroke="#000" stroke-width="0.3" text-anchor="end" font-family='"Liberation Sans", sans-serif' >1</text>
<text transform="translate(105.80,663.38) scale(0.89,1)" font-size="20.0" fill="#000" stroke="#000" stroke-width="0.3" text-anchor="end" font-family='"Liberation Sans", sans-serif' >2</text>
<text transform="translate(105.80,590.22) scale(0.89,1)" font-size="20.0" fill="#000" stroke="#000" stroke-width="0.3" text-anchor="end" font-family='"Liberation Sans", sans-serif' >3</text>
<text transform="translate(105.80,517.06) scale(0.89,1)" font-size="20.0" fill="#000" stroke="#000" stroke-width="0.3" text-anchor="end" font-family='"Liberation Sans", sans-serif' >4</text>
<text transform="translate(105.80,443.90) scale(0.89,1)" font-size="20.0" fill="#000" stroke="#000" stroke-width="0.3" text-anchor="end" font-family='"Liberation Sans", sans-serif' >5</text>
<text transform="translate(113.50,832.60) scale(0.89,1)" font-size="20.0" fill="#000" stroke="#000" stroke-width="0.3" text-anchor="middle" font-family='"Liberation Sans", sans-serif' >0</text>
<text transform="translate(230.88,832.60) scale(0.89,1)" font-size="20.0" fill="#000" stroke="#000" stroke-width="0.3" text-anchor="middle" font-family='"Liberation Sans", sans-serif' >50</text>
<text transform="translate(348.25,832.60) scale(0.89,1)" font-size="20.0" fill="#000" stroke="#000" stroke-width="0.3" text-anchor="middle" font-family='"Liberation Sans", sans-serif' >100</text>
<text transform="translate(465.62,832.60) scale(0.89,1)" font-size="20.0" fill="#000" stroke="#000" stroke-width="0.3" text-anchor="middle" font-family='"Liberation Sans", sans-serif' >150</text>
<text transform="translate(583.00,832.60) scale(0.89,1)" font-size="20.0" fill="#000" stroke="#000" stroke-width="0.3" text-anchor="middle" font-family='"Liberation Sans", sans-serif' >200</text>
<text transform="translate(354.50,855.50) scale(0.9,1)" font-size="20.0" fill="#000" stroke="#000" stroke-width="0.3" text-anchor="middle" font-family='"Liberation Sans", sans-serif' >Temperature (K)</text>
<text transform="translate(77.6,733.9) rotate(-90) scale(0.89,1)" font-size="20.0" font-family='"Liberation Sans", sans-serif' fill="#000" stroke="#000" stroke-width="0.3">Magnetic moment (&#956;<tspan font-size="14.2" dy="8.0">B</tspan><tspan dy="-8.0" dx="-1.7">*</tspan><tspan dx="-1.1">Mn</tspan><tspan font-size="14.2" dy="-9.3" dx="-0.2">-1</tspan><tspan dy="9.3" dx="1.7">)</tspan></text>
<polyline points="120.04,460.00 136.47,465.60 159.95,464.75 183.43,468.10 206.90,469.50 230.38,472.00 253.85,475.50 277.33,479.25 300.80,487.50 324.27,494.25 347.75,499.25 371.23,509.50 394.70,519.00 418.18,535.30 441.65,545.40 465.12,559.50 488.60,580.20 512.08,609.60 535.55,718.10 559.03,804.00 582.50,804.00" fill="none" stroke="#0000ff" stroke-width="0.9" stroke-linejoin="round"/>
<circle cx="120.04" cy="460.00" r="3.9" fill="none" stroke="#0000ff" stroke-width="1"/>
<circle cx="136.47" cy="465.60" r="3.9" fill="none" stroke="#0000ff" stroke-width="1"/>
<circle cx="159.95" cy="464.75" r="3.9" fill="none" stroke="#0000ff" stroke-width="1"/>
<circle cx="183.43" cy="468.10" r="3.9" fill="none" stroke="#0000ff" stroke-width="1"/>
<circle cx="206.90" cy="469.50" r="3.9" fill="none" stroke="#0000ff" stroke-width="1"/>
<circle cx="230.38" cy="472.00" r="3.9" fill="none" stroke="#0000ff" stroke-width="1"/>
<circle cx="253.85" cy="475.50" r="3.9" fill="none" stroke="#0000ff" stroke-width="1"/>
<circle cx="277.33" cy="479.25" r="3.9" fill="none" stroke="#0000ff" stroke-width="1"/>
<circle cx="300.80" cy="487.50" r="3.9" fill="none" stroke="#0000ff" stroke-width="1"/>
<circle cx="324.27" cy="494.25" r="3.9" fill="none" stroke="#0000ff" stroke-width="1"/>
<circle cx="347.75" cy="499.25" r="3.9" fill="none" stroke="#0000ff" stroke-width="1"/>
<circle cx="371.23" cy="509.50" r="3.9" fill="none" stroke="#0000ff" stroke-width="1"/>
<circle cx="394.70" cy="519.00" r="3.9" fill="none" stroke="#0000ff" stroke-width="1"/>
<circle cx="418.18" cy="535.30" r="3.9" fill="none" stroke="#0000ff" stroke-width="1"/>
<circle cx="441.65" cy="545.40" r="3.9" fill="none" stroke="#0000ff" stroke-width="1"/>
<circle cx="465.12" cy="559.50" r="3.9" fill="none" stroke="#0000ff" stroke-width="1"/>
<circle cx="488.60" cy="580.20" r="3.9" fill="none" stroke="#0000ff" stroke-width="1"/>
<circle cx="512.08" cy="609.60" r="3.9" fill="none" stroke="#0000ff" stroke-width="1"/>
<circle cx="535.55" cy="718.10" r="3.9" fill="none" stroke="#0000ff" stroke-width="1"/>
<circle cx="559.03" cy="804.00" r="3.9" fill="none" stroke="#0000ff" stroke-width="1"/>
<circle cx="582.50" cy="804.00" r="3.9" fill="none" stroke="#0000ff" stroke-width="1"/>
<rect x="113.0" y="438.3" width="481.50" height="373.00" fill="none" stroke="#000" stroke-width="1.05"/>
<line x1="136.47" y1="811.30" x2="136.47" y2="805.30" stroke="#000" stroke-width="0.9" />
<line x1="136.47" y1="438.30" x2="136.47" y2="444.30" stroke="#000" stroke-width="0.9" />
<line x1="159.95" y1="811.30" x2="159.95" y2="805.30" stroke="#000" stroke-width="0.9" />
<line x1="159.95" y1="438.30" x2="159.95" y2="444.30" stroke="#000" stroke-width="0.9" />
<line x1="183.43" y1="811.30" x2="183.43" y2="805.30" stroke="#000" stroke-width="0.9" />
<line x1="183.43" y1="438.30" x2="183.43" y2="444.30" stroke="#000" stroke-width="0.9" />
<line x1="206.90" y1="811.30" x2="206.90" y2="805.30" stroke="#000" stroke-width="0.9" />
<line x1="206.90" y1="438.30" x2="206.90" y2="444.30" stroke="#000" stroke-width="0.9" />
<line x1="230.38" y1="811.30" x2="230.38" y2="801.30" stroke="#000" stroke-width="0.9" />
<line x1="230.38" y1="438.30" x2="230.38" y2="448.30" stroke="#000" stroke-width="0.9" />
<line x1="253.85" y1="811.30" x2="253.85" y2="805.30" stroke="#000" stroke-width="0.9" />
<line x1="253.85" y1="438.30" x2="253.85" y2="444.30" stroke="#000" stroke-width="0.9" />
<line x1="277.33" y1="811.30" x2="277.33" y2="805.30" stroke="#000" stroke-width="0.9" />
<line x1="277.33" y1="438.30" x2="277.33" y2="444.30" stroke="#000" stroke-width="0.9" />
<line x1="300.80" y1="811.30" x2="300.80" y2="805.30" stroke="#000" stroke-width="0.9" />
<line x1="300.80" y1="438.30" x2="300.80" y2="444.30" stroke="#000" stroke-width="0.9" />
<line x1="324.27" y1="811.30" x2="324.27" y2="805.30" stroke="#000" stroke-width="0.9" />
<line x1="324.27" y1="438.30" x2="324.27" y2="444.30" stroke="#000" stroke-width="0.9" />
<line x1="347.75" y1="811.30" x2="347.75" y2="801.30" stroke="#000" stroke-width="0.9" />
<line x1="347.75" y1="438.30" x2="347.75" y2="448.30" stroke="#000" stroke-width="0.9" />
<line x1="371.23" y1="811.30" x2="371.23" y2="805.30" stroke="#000" stroke-width="0.9" />
<line x1="371.23" y1="438.30" x2="371.23" y2="444.30" stroke="#000" stroke-width="0.9" />
<line x1="394.70" y1="811.30" x2="394.70" y2="805.30" stroke="#000" stroke-width="0.9" />
<line x1="394.70" y1="438.30" x2="394.70" y2="444.30" stroke="#000" stroke-width="0.9" />
<line x1="418.18" y1="811.30" x2="418.18" y2="805.30" stroke="#000" stroke-width="0.9" />
<line x1="418.18" y1="438.30" x2="418.18" y2="444.30" stroke="#000" stroke-width="0.9" />
<line x1="441.65" y1="811.30" x2="441.65" y2="805.30" stroke="#000" stroke-width="0.9" />
<line x1="441.65" y1="438.30" x2="441.65" y2="444.30" stroke="#000" stroke-width="0.9" />
<line x1="465.12" y1="811.30" x2="465.12" y2="801.30" stroke="#000" stroke-width="0.9" />
<line x1="465.12" y1="438.30" x2="465.12" y2="448.30" stroke="#000" stroke-width="0.9" />
<line x1="488.60" y1="811.30" x2="488.60" y2="805.30" stroke="#000" stroke-width="0.9" />
<line x1="488.60" y1="438.30" x2="488.60" y2="444.30" stroke="#000" stroke-width="0.9" />
<line x1="512.08" y1="811.30" x2="512.08" y2="805.30" stroke="#000" stroke-width="0.9" />
<line x1="512.08" y1="438.30" x2="512.08" y2="444.30" stroke="#000" stroke-width="0.9" />
<line x1="535.55" y1="811.30" x2="535.55" y2="805.30" stroke="#000" stroke-width="0.9" />
<line x1="535.55" y1="438.30" x2="535.55" y2="444.30" stroke="#000" stroke-width="0.9" />
<line x1="559.03" y1="811.30" x2="559.03" y2="805.30" stroke="#000" stroke-width="0.9" />
<line x1="559.03" y1="438.30" x2="559.03" y2="444.30" stroke="#000" stroke-width="0.9" />
<line x1="582.50" y1="811.30" x2="582.50" y2="801.30" stroke="#000" stroke-width="0.9" />
<line x1="582.50" y1="438.30" x2="582.50" y2="448.30" stroke="#000" stroke-width="0.9" />
<line x1="113.00" y1="804.10" x2="123.00" y2="804.10" stroke="#000" stroke-width="0.9" />
<line x1="594.50" y1="804.10" x2="584.50" y2="804.10" stroke="#000" stroke-width="0.9" />
<line x1="113.00" y1="785.81" x2="119.00" y2="785.81" stroke="#000" stroke-width="0.9" />
<line x1="594.50" y1="785.81" x2="588.50" y2="785.81" stroke="#000" stroke-width="0.9" />
<line x1="113.00" y1="767.52" x2="119.00" y2="767.52" stroke="#000" stroke-width="0.9" />
<line x1="594.50" y1="767.52" x2="588.50" y2="767.52" stroke="#000" stroke-width="0.9" />
<line x1="113.00" y1="749.23" x2="119.00" y2="749.23" stroke="#000" stroke-width="0.9" />
<line x1="594.50" y1="749.23" x2="588.50" y2="749.23" stroke="#000" stroke-width="0.9" />
<line x1="113.00" y1="730.94" x2="123.00" y2="730.94" stroke="#000" stroke-width="0.9" />
<line x1="594.50" y1="730.94" x2="584.50" y2="730.94" stroke="#000" stroke-width="0.9" />
<line x1="113.00" y1="712.65" x2="119.00" y2="712.65" stroke="#000" stroke-width="0.9" />
<line x1="594.50" y1="712.65" x2="588.50" y2="712.65" stroke="#000" stroke-width="0.9" />
<line x1="113.00" y1="694.36" x2="119.00" y2="694.36" stroke="#000" stroke-width="0.9" />
<line x1="594.50" y1="694.36" x2="588.50" y2="694.36" stroke="#000" stroke-width="0.9" />
<line x1="113.00" y1="676.07" x2="119.00" y2="676.07" stroke="#000" stroke-width="0.9" />
<line x1="594.50" y1="676.07" x2="588.50" y2="676.07" stroke="#000" stroke-width="0.9" />
<line x1="113.00" y1="657.78" x2="123.00" y2="657.78" stroke="#000" stroke-width="0.9" />
<line x1="594.50" y1="657.78" x2="584.50" y2="657.78" stroke="#000" stroke-width="0.9" />
<line x1="113.00" y1="639.49" x2="119.00" y2="639.49" stroke="#000" stroke-width="0.9" />
<line x1="594.50" y1="639.49" x2="588.50" y2="639.49" stroke="#000" stroke-width="0.9" />
<line x1="113.00" y1="621.20" x2="119.00" y2="621.20" stroke="#000" stroke-width="0.9" />
<line x1="594.50" y1="621.20" x2="588.50" y2="621.20" stroke="#000" stroke-width="0.9" />
<line x1="113.00" y1="602.91" x2="119.00" y2="602.91" stroke="#000" stroke-width="0.9" />
<line x1="594.50" y1="602.91" x2="588.50" y2="602.91" stroke="#000" stroke-width="0.9" />
<line x1="113.00" y1="584.62" x2="123.00" y2="584.62" stroke="#000" stroke-width="0.9" />
<line x1="594.50" y1="584.62" x2="584.50" y2="584.62" stroke="#000" stroke-width="0.9" />
<line x1="113.00" y1="566.33" x2="119.00" y2="566.33" stroke="#000" stroke-width="0.9" />
<line x1="594.50" y1="566.33" x2="588.50" y2="566.33" stroke="#000" stroke-width="0.9" />
<line x1="113.00" y1="548.04" x2="119.00" y2="548.04" stroke="#000" stroke-width="0.9" />
<line x1="594.50" y1="548.04" x2="588.50" y2="548.04" stroke="#000" stroke-width="0.9" />
<line x1="113.00" y1="529.75" x2="119.00" y2="529.75" stroke="#000" stroke-width="0.9" />
<line x1="594.50" y1="529.75" x2="588.50" y2="529.75" stroke="#000" stroke-width="0.9" />
<line x1="113.00" y1="511.46" x2="123.00" y2="511.46" stroke="#000" stroke-width="0.9" />
<line x1="594.50" y1="511.46" x2="584.50" y2="511.46" stroke="#000" stroke-width="0.9" />
<line x1="113.00" y1="493.17" x2="119.00" y2="493.17" stroke="#000" stroke-width="0.9" />
<line x1="594.50" y1="493.17" x2="588.50" y2="493.17" stroke="#000" stroke-width="0.9" />
<line x1="113.00" y1="474.88" x2="119.00" y2="474.88" stroke="#000" stroke-width="0.9" />
<line x1="594.50" y1="474.88" x2="588.50" y2="474.88" stroke="#000" stroke-width="0.9" />
<line x1="113.00" y1="456.59" x2="119.00" y2="456.59" stroke="#000" stroke-width="0.9" />
<line x1="594.50" y1="456.59" x2="588.50" y2="456.59" stroke="#000" stroke-width="0.9" />
<text transform="translate(170.90,764.70) scale(0.95,1)" font-size="38.7" fill="#000" text-anchor="start" font-family='"Liberation Serif", serif' >(b)</text>
</svg>
</body></html>
